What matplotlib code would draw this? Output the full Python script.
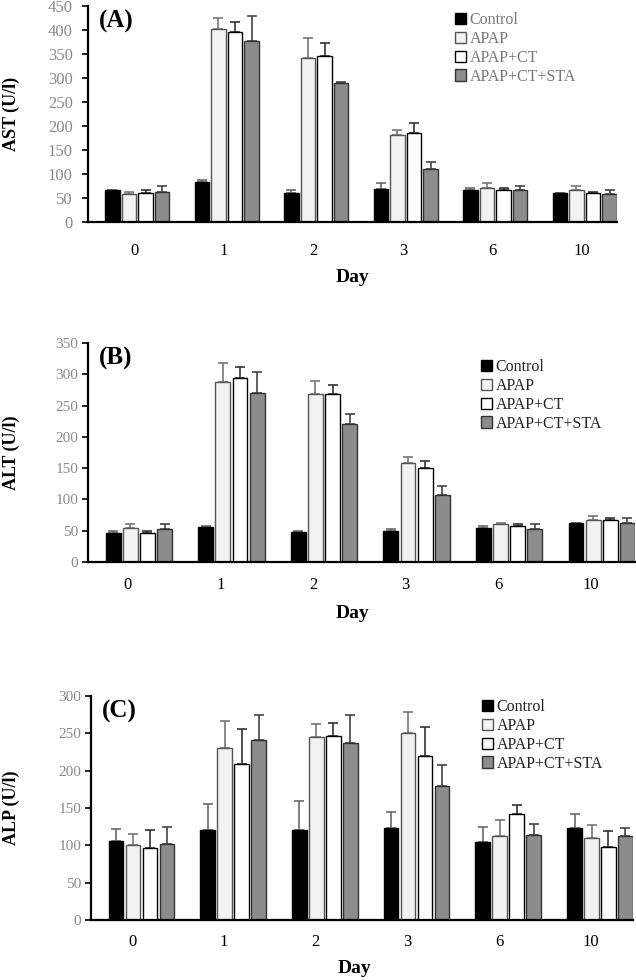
import numpy as np
import matplotlib.pyplot as plt

plt.rcParams['font.family'] = ['Liberation Serif', 'DejaVu Serif']

days = ['0', '1', '2', '3', '6', '10']
groups = ['Control', 'APAP', 'APAP+CT', 'APAP+CT+STA']

# AST (U/l)
ast_mean = {
    'Control':     [66, 83, 61, 69, 67, 60],
    'APAP':        [58, 403, 342, 182, 71, 66],
    'APAP+CT':     [60, 396, 346, 186, 67, 61],
    'APAP+CT+STA': [63, 378, 289, 111, 66, 59],
}
ast_err = {
    'Control':     [1, 5, 6, 12, 3, 1],
    'APAP':        [4, 21, 42, 9, 10, 10],
    'APAP+CT':     [6, 21, 27, 20, 3, 2],
    'APAP+CT+STA': [11, 51, 2, 13, 10, 7],
}

# ALT (U/l)
alt_mean = {
    'Control':     [46, 56, 48, 49, 55, 62],
    'APAP':        [54, 287, 268, 159, 60, 67],
    'APAP+CT':     [46, 294, 268, 150, 58, 67],
    'APAP+CT+STA': [52, 270, 220, 107, 53, 62],
}
alt_err = {
    'Control':     [4, 1, 1, 3, 3, 1],
    'APAP':        [7, 31, 21, 9, 2, 7],
    'APAP+CT':     [3, 17, 15, 12, 3, 3],
    'APAP+CT+STA': [8, 34, 16, 15, 7, 8],
}

# ALP (U/l)
alp_mean = {
    'Control':     [106, 120, 120, 123, 105, 123],
    'APAP':        [100, 230, 245, 251, 112, 110],
    'APAP+CT':     [97, 209, 246, 220, 142, 98],
    'APAP+CT+STA': [102, 241, 237, 180, 114, 112],
}
alp_err = {
    'Control':     [16, 35, 40, 22, 20, 19],
    'APAP':        [15, 36, 18, 28, 22, 17],
    'APAP+CT':     [24, 47, 18, 39, 12, 21],
    'APAP+CT+STA': [22, 34, 38, 27, 14, 11],
}

fills = {'Control': 'black', 'APAP': '#f2f2f2', 'APAP+CT': 'white', 'APAP+CT+STA': '#8c8c8c'}
edges = {'Control': 'black', 'APAP': '#555555', 'APAP+CT': 'black', 'APAP+CT+STA': '#333333'}
ecols = {'Control': '#6a6a6a', 'APAP': '#777777', 'APAP+CT': '#333333', 'APAP+CT+STA': '#444444'}

W, H = 636, 980


def fx(px):
    return px / W


def fy(py):
    return 1 - py / H


fig = plt.figure(figsize=(W / 100, H / 100), dpi=100)

panels = [
    # label, ylabel, means, errs, ymax, box(l, t, r, b), tick offset, ytick size, ytick pad, xtick pad,
    # legend anchor (x, y), legend text colour
    ('(A)', 'AST (U/l)', ast_mean, ast_err, 450, (88, 6, 617, 222), -0.03, 12, 7, 15, (447, 4), '#777777'),
    ('(B)', 'ALT (U/l)', alt_mean, alt_err, 350, (88, 343, 635, 562), -0.12, 11, 3, 11, (473, 351), '#222222'),
    ('(C)', 'ALP (U/l)', alp_mean, alp_err, 300, (91, 696, 633, 920), -0.10, 11, 3, 10, (474, 691), '#222222'),
]

x = np.arange(len(days))
step = 0.185
width = 0.16

for label, ylabel, means, errs, ymax, box, toff, ysz, ypad, xpad, lpos, lcol in panels:
    l, t, r, b = box
    ax = fig.add_axes([fx(l), fy(b), fx(r) - fx(l), fy(t) - fy(b)])
    for i, g in enumerate(groups):
        pos = x + (i - 1.5) * step
        m = np.array(means[g], dtype=float)
        e = np.array(errs[g], dtype=float)
        ax.bar(pos, m, width, color=fills[g], edgecolor=edges[g], linewidth=1, label=g, zorder=2)
        ax.errorbar(pos, m, yerr=[np.zeros_like(e), e], fmt='none', ecolor=ecols[g],
                    elinewidth=1.2, capsize=3.5, capthick=1.2, zorder=1)
    ax.set_xlim(-0.55, 5.36)
    ax.set_ylim(0, ymax)
    ax.set_yticks(np.arange(0, ymax + 1, 50))
    ax.set_xticks(x + toff)
    ax.set_xticklabels(days, fontsize=12)
    ax.tick_params(axis='x', length=0, pad=xpad)
    ax.tick_params(axis='y', length=4, width=1.2, direction='out', pad=ypad,
                   labelsize=ysz, labelcolor='#8a8a8a')
    for s in ['top', 'right']:
        ax.spines[s].set_visible(False)
    for s in ['left', 'bottom']:
        ax.spines[s].set_linewidth(1.6)
    leg = ax.legend(loc='upper left', bbox_to_anchor=(fx(lpos[0]), fy(lpos[1])),
                    bbox_transform=fig.transFigure, frameon=False, fontsize=11.5,
                    handlelength=0.7, handleheight=0.7, handletextpad=0.2,
                    labelspacing=0.18, borderpad=0)
    for txt in leg.get_texts():
        txt.set_color(lcol)
    fig.text(fx(l + 11), fy(t + 4), label, fontsize=18, fontweight='bold', va='top', ha='left')
    fig.text(fx(11), fy((t + b) / 2), ylabel, fontsize=13, fontweight='bold',
             rotation=90, va='center', ha='center')

fig.text(fx(352), fy(277), 'Day', fontsize=14, fontweight='bold', ha='center', va='center')
fig.text(fx(352), fy(613), 'Day', fontsize=14, fontweight='bold', ha='center', va='center')
fig.text(fx(354), fy(968), 'Day', fontsize=14, fontweight='bold', ha='center', va='center')

fig.savefig('out.png', dpi=100)
